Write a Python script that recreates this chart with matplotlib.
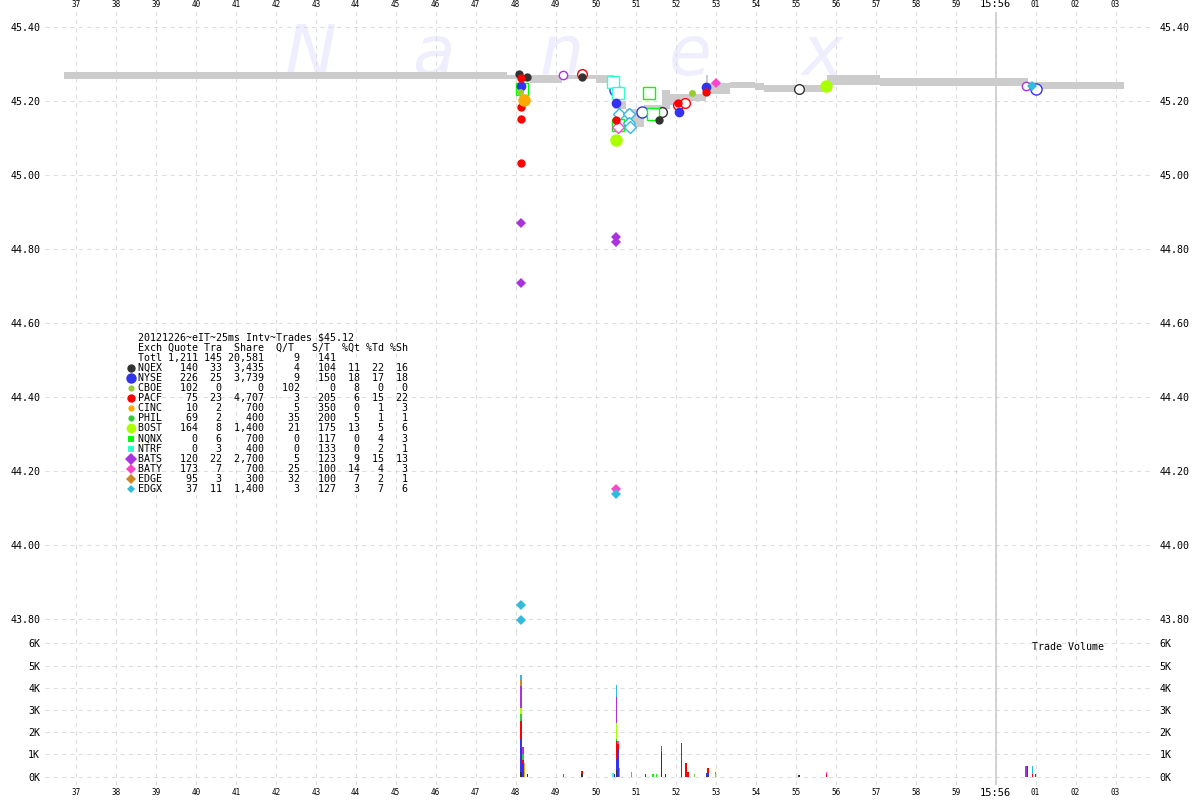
import numpy as np
import matplotlib.pyplot as plt

# x axis = seconds after 15:55:00
sec_ticks = list(range(37, 64))
sec_labels = [str(s) if s < 60 else ("15:56" if s == 60 else "%02d" % (s - 60)) for s in sec_ticks]
price_ticks = [43.80, 44.00, 44.20, 44.40, 44.60, 44.80, 45.00, 45.20, 45.40]
vol_ticks = [0, 1000, 2000, 3000, 4000, 5000, 6000]
vol_labels = ["0K", "1K", "2K", "3K", "4K", "5K", "6K"]

# NBBO band (bid/ask steps)
band_t = [36.7, 47.78, 48.35, 49.15, 50.0, 50.45, 50.75, 51.2, 51.65, 51.85, 52.1,
          52.75, 52.82, 53.35, 53.98, 54.2, 55.78, 57.1, 60.8, 63.2]
band_bid = [45.26, 45.26, 45.25, 45.26, 45.25, 45.18, 45.13, 45.16, 45.18, 45.19, 45.20,
            45.22, 45.22, 45.235, 45.23, 45.224, 45.244, 45.242, 45.234]
band_ask = [45.28, 45.27, 45.27, 45.27, 45.27, 45.20, 45.18, 45.19, 45.23, 45.22, 45.22,
            45.27, 45.25, 45.253, 45.25, 45.244, 45.272, 45.264, 45.252]

exchanges = ["NQEX", "NYSE", "CBOE", "PACF", "CINC", "PHIL", "BOST", "NQNX", "NTRF",
             "BATS", "BATY", "EDGE", "EDGX"]
ex_quote = ["140", "226", "102", "75", "10", "69", "164", "0", "0", "120", "173", "95", "37"]
ex_tra = ["33", "25", "0", "23", "2", "2", "8", "6", "3", "22", "7", "3", "11"]
ex_share = ["3,435", "3,739", "0", "4,707", "700", "400", "1,400", "700", "400", "2,700", "700", "300", "1,400"]
ex_qt = ["4", "9", "102", "3", "5", "35", "21", "0", "0", "5", "25", "32", "3"]
ex_st = ["104", "150", "0", "205", "350", "200", "175", "117", "133", "123", "100", "100", "127"]
ex_pqt = ["11", "18", "8", "6", "0", "5", "13", "0", "0", "9", "14", "7", "3"]
ex_ptd = ["22", "17", "0", "15", "1", "1", "5", "4", "2", "15", "4", "2", "7"]
ex_psh = ["16", "18", "0", "22", "3", "1", "6", "3", "1", "13", "3", "1", "6"]

colors = {"NQEX": "#333333", "NYSE": "#3333ee", "CBOE": "#99cc33", "PACF": "#ff0000",
          "CINC": "#ffaa00", "PHIL": "#33cc33", "BOST": "#aaff00", "NQNX": "#00ff00",
          "NTRF": "#33ffcc", "BATS": "#aa33dd", "BATY": "#ff44cc", "EDGE": "#cc8822",
          "EDGX": "#33bbdd"}
shapes = {"NQEX": "o", "NYSE": "o", "CBOE": "o", "PACF": "o", "CINC": "o", "PHIL": "o",
          "BOST": "o", "NQNX": "s", "NTRF": "s", "BATS": "D", "BATY": "D", "EDGE": "D",
          "EDGX": "D"}
sizes = {"NQEX": 6, "NYSE": 7.5, "CBOE": 4.5, "PACF": 6, "CINC": 4.5, "PHIL": 4.5,
         "BOST": 7, "NQNX": 4.5, "NTRF": 4.5, "BATS": 6, "BATY": 5.5, "EDGE": 5.5, "EDGX": 4.5}
big = {"NQEX": 6, "NYSE": 7, "CBOE": 5, "PACF": 6, "CINC": 9, "PHIL": 5,
       "BOST": 9, "NQNX": 7, "NTRF": 7, "BATS": 5, "BATY": 5, "EDGE": 5, "EDGX": 5}

# trades (filled) and quotes (open): (seconds, price)
trades = {
    "NQEX": [(48.09, 45.274), (48.27, 45.265), (49.65, 45.265), (51.59, 45.150)],
    "NYSE": [(48.12, 45.24), (50.52, 45.195), (52.08, 45.172), (52.76, 45.239)],
    "CBOE": [(48.10, 45.225), (52.42, 45.223)],
    "PACF": [(48.12, 45.262), (48.12, 45.183), (48.12, 45.152), (48.12, 45.033),
             (50.50, 45.150), (52.07, 45.195), (52.75, 45.224)],
    "CINC": [(48.20, 45.202)],
    "BOST": [(50.50, 45.096), (55.77, 45.242)],
    "BATS": [(48.13, 44.871), (48.13, 44.710), (50.52, 44.834), (50.52, 44.820)],
    "BATY": [(50.52, 44.151), (53.00, 45.250)],
    "EDGX": [(48.13, 43.838), (48.13, 43.798), (50.52, 44.140), (60.92, 45.242)],
}
quotes = {
    "NQEX": [(51.67, 45.172), (55.08, 45.233)],
    "NYSE": [(50.43, 45.253), (50.48, 45.230), (51.17, 45.172), (61.00, 45.233)],
    "PACF": [(49.65, 45.274), (52.07, 45.190), (52.23, 45.195)],
    "NQNX": [(48.15, 45.233), (50.55, 45.136), (51.34, 45.223), (51.44, 45.166)],
    "NTRF": [(50.43, 45.253), (50.55, 45.223)],
    "BATS": [(49.19, 45.271), (60.77, 45.242)],
    "BATY": [(50.55, 45.130)],
    "EDGX": [(50.58, 45.166), (50.83, 45.166), (50.83, 45.142), (50.86, 45.129)],
}

# trade volume bars: time and shares per exchange
vol_t = [48.13, 48.18, 48.22, 48.29, 49.19, 49.66, 50.43, 50.47, 50.52, 50.56, 50.60,
         50.89, 51.24, 51.43, 51.52, 51.64, 51.74, 52.14, 52.26, 52.31, 52.47, 52.77,
         52.81, 53.00, 55.08, 55.77, 60.76, 60.80, 60.92, 61.00]
vol_mix = [
    {"NQEX": 200, "NYSE": 1500, "PACF": 820, "PHIL": 300, "BOST": 250, "BATS": 1000, "EDGE": 300, "EDGX": 220},
    {"NYSE": 550, "PACF": 220, "PHIL": 270, "BATS": 300},
    {"CINC": 600},
    {"NQEX": 100},
    {"BATS": 100},
    {"NQEX": 100, "PACF": 140},
    {"NTRF": 180},
    {"NYSE": 130},
    {"NQEX": 280, "NYSE": 500, "PACF": 820, "PHIL": 100, "BOST": 720, "BATS": 1170, "EDGX": 550},
    {"NYSE": 1250, "PACF": 200, "BATY": 150},
    {"PHIL": 180, "EDGX": 200},
    {"EDGX": 210},
    {"NYSE": 100},
    {"NQNX": 100},
    {"NQNX": 100},
    {"NQEX": 1080, "PACF": 70, "PHIL": 70, "BATS": 180},
    {"NQEX": 100},
    {"NYSE": 100, "PACF": 1420},
    {"PACF": 600},
    {"PACF": 200},
    {"CBOE": 100},
    {"NQEX": 50, "NYSE": 100},
    {"NYSE": 180, "PACF": 200},
    {"CBOE": 100, "BATY": 100},
    {"NQEX": 80},
    {"PACF": 100, "BATY": 100},
    {"BATS": 500},
    {"NYSE": 500},
    {"PACF": 100, "EDGX": 400},
    {"NYSE": 100},
]

mono = "DejaVu Sans Mono"
grid_kw = dict(color="#dddddd", linewidth=0.75, linestyle=(0, (4, 4)))

fig = plt.figure(figsize=(12, 8), dpi=100)
ax = fig.add_axes([45 / 1200, 1 - 632 / 800, 1105 / 1200, 620 / 800])
axv = fig.add_axes([45 / 1200, 1 - 785 / 800, 1105 / 1200, 153 / 800], sharex=ax)

for a in (ax, axv):
    for s in a.spines.values():
        s.set_visible(False)
    a.set_axisbelow(True)
    a.grid(True, **grid_kw)
    a.axvline(60, color="#cccccc", linewidth=1.2, zorder=0.8)

ax.set_xlim(36.23, 63.86)
ax.set_ylim(43.766, 45.441)
axv.set_ylim(-373, 6508)

ax.set_xticks(sec_ticks)
ax.set_xticklabels(sec_labels)
ax.tick_params(axis="x", length=0, pad=2, labeltop=True, labelbottom=False)
axv.tick_params(axis="x", length=0, pad=2, labelbottom=True)
axv.set_xticks(sec_ticks)
axv.set_xticklabels(sec_labels)
for a in (ax, axv):
    for lab in a.get_xticklabels():
        lab.set_fontfamily(mono)
        lab.set_fontsize(7.5 if lab.get_text() == "15:56" else 5.5)

ax.set_yticks(price_ticks)
ax.set_yticklabels(["%.2f" % p for p in price_ticks], fontfamily=mono, fontsize=7.2)
ax.tick_params(axis="y", length=0, pad=3.5)
axv.set_yticks(vol_ticks)
axv.set_yticklabels(vol_labels, fontfamily=mono, fontsize=7.2)
axv.tick_params(axis="y", length=0, pad=3.5)

for a, ticks, labels in ((ax, price_ticks, ["%.2f" % p for p in price_ticks]), (axv, vol_ticks, vol_labels)):
    sec = a.secondary_yaxis("right")
    sec.set_yticks(ticks)
    sec.set_yticklabels(labels, fontfamily=mono, fontsize=7.2)
    sec.tick_params(length=0, pad=7)
    sec.spines["right"].set_visible(False)

# watermark
for letter, xp in zip("Nanex", [310, 433, 562, 690, 822]):
    ax.text(xp / 1200, 1 - 75 / 800, letter, transform=fig.transFigure, ha="center",
            va="baseline", fontsize=50, style="italic", color="#eeeeff", zorder=0.1)

# NBBO band
ax.fill_between(band_t, band_bid + [band_bid[-1]], band_ask + [band_ask[-1]],
                step="post", color="#cccccc", linewidth=0, zorder=1)

# quotes (open) then trades (filled)
for ex in exchanges:
    if ex in quotes:
        t, p = zip(*quotes[ex])
        ax.plot(t, p, linestyle="none", marker=shapes[ex] if ex != "BATS" else "o",
                markersize=big[ex] + 1, markerfacecolor="white",
                markeredgecolor=colors[ex], markeredgewidth=1, zorder=3)
for ex in exchanges:
    if ex in trades:
        t, p = zip(*trades[ex])
        ax.plot(t, p, linestyle="none", marker=shapes[ex], markersize=big[ex],
                color=colors[ex], markeredgewidth=0, zorder=4)

# stacked volume bars
bottom = np.zeros(len(vol_t))
for ex in exchanges:
    h = np.array([m.get(ex, 0) for m in vol_mix], dtype=float)
    if h.sum() > 0:
        axv.bar(vol_t, h, width=0.035, bottom=bottom, color=colors[ex], linewidth=0, zorder=3)
    bottom += h

axv.text(1032 / 1200, 1 - 647 / 800, "Trade Volume", transform=fig.transFigure,
         fontfamily=mono, fontsize=7.2, va="center", ha="left")

# stats table
rows = ["20121226~eIT~25ms Intv~Trades $45.12",
        "Exch Quote Tra  Share  Q/T   S/T  %Qt %Td %Sh",
        "%-4s%6s%4s%7s%6s%6s" % ("Totl", "1,211", "145", "20,581", "9", "141")]
for i, ex in enumerate(exchanges):
    rows.append("%-4s%6s%4s%7s%6s%6s%4s%4s%4s" % (ex, ex_quote[i], ex_tra[i], ex_share[i],
                                                 ex_qt[i], ex_st[i], ex_pqt[i], ex_ptd[i], ex_psh[i]))
for i, row in enumerate(rows):
    yy = 1 - (338 + 10.05 * i) / 800
    fig.text(138 / 1200, yy, row, fontfamily=mono, fontsize=7.2, va="center", ha="left")
    if i >= 3:
        ex = exchanges[i - 3]
        ax.plot([131 / 1200], [yy], transform=fig.transFigure, clip_on=False,
                marker=shapes[ex], markersize=sizes[ex], color=colors[ex],
                markeredgewidth=0, linestyle="none")

fig.savefig("out.png", dpi=100)
